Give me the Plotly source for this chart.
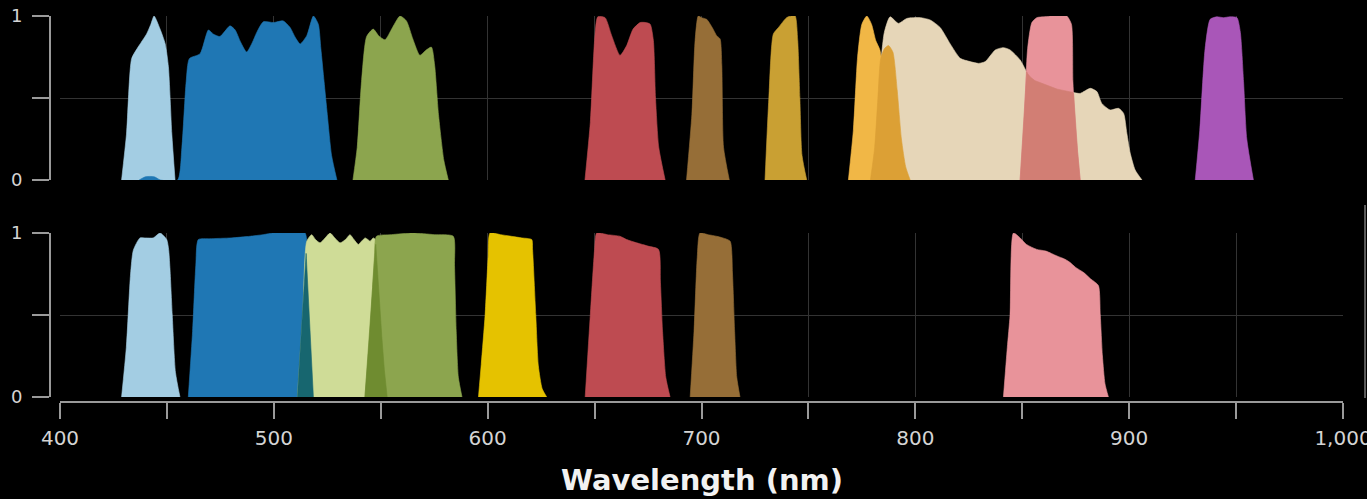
import numpy as np
import plotly.graph_objects as go

W, H = 1367, 499

# ---------------- data: top panel (wavelength nm, transmission) ----------------
T_LIGHTBLUE_NM = [428.8, 431.1, 433.5, 436.0, 438.0, 440.5, 442.5, 444.0, 446.8, 449.2, 450.7, 452.3, 453.8]
T_LIGHTBLUE_T = [0.0, 0.28, 0.74, 0.80, 0.84, 0.89, 0.95, 1.0, 0.92, 0.83, 0.69, 0.28, 0.0]

T_DARKBLUE_NM = [437.0, 440.0, 444.0, 447.0, 455.0, 457.0, 459.0, 460.5, 465.5, 469.4, 471.7, 474.8, 479.5,
                 481.9, 484.5, 487.3, 490.0, 492.0, 495.1, 499.8, 504.4, 507.6, 510.0, 512.3, 515.4, 518.5,
                 520.8, 522.0, 523.5, 525.0, 527.0, 529.5]
T_DARKBLUE_T = [0.0, 0.02, 0.02, 0.0, 0.0, 0.2, 0.6, 0.74, 0.77, 0.915, 0.89, 0.875, 0.94,
                0.915, 0.84, 0.78, 0.84, 0.90, 0.965, 0.96, 0.97, 0.93, 0.87, 0.83, 0.88, 1.0,
                0.95, 0.80, 0.60, 0.40, 0.15, 0.0]

T_OLIVE_NM = [537.0, 539.0, 541.0, 543.4, 546.5, 549.0, 552.0, 555.5, 559.0, 562.0, 565.0, 568.3, 571.0,
              573.7, 575.2, 577.0, 579.5, 581.6]
T_OLIVE_T = [0.0, 0.2, 0.6, 0.875, 0.92, 0.88, 0.855, 0.93, 1.0, 0.97, 0.86, 0.76, 0.79,
             0.81, 0.70, 0.40, 0.12, 0.0]

T_RED_NM = [645.5, 648.0, 650.0, 651.5, 654.9, 658.0, 661.9, 665.0, 668.0, 671.3, 674.0, 676.0, 677.5,
            678.5, 680.0, 683.0]
T_RED_T = [0.0, 0.35, 0.85, 0.995, 0.99, 0.88, 0.76, 0.82, 0.92, 0.96, 0.96, 0.95, 0.85,
           0.50, 0.20, 0.0]

T_BROWN_NM = [693.0, 695.5, 697.0, 698.5, 700.0, 702.4, 705.0, 707.1, 708.7, 709.5, 710.3, 713.0]
T_BROWN_T = [0.0, 0.4, 0.85, 1.0, 0.99, 0.98, 0.93, 0.88, 0.86, 0.70, 0.20, 0.0]

T_MUSTARD_NM = [729.7, 731.5, 733.6, 736.0, 739.8, 742.0, 743.8, 745.0, 746.0, 747.0, 749.2]
T_MUSTARD_T = [0.0, 0.5, 0.89, 0.93, 0.99, 1.0, 1.0, 0.85, 0.5, 0.15, 0.0]

T_BEIGE_NM = [772.0, 779.0, 783.0, 785.5, 788.2, 792.1, 796.0, 802.2, 806.9, 811.6, 816.3, 821.0, 825.6,
              829.6, 832.7, 837.4, 841.2, 844.3, 849.0, 852.9, 855.2, 864.6, 874.0, 877.1, 881.8, 884.9,
              887.2, 891.1, 895.0, 897.4, 898.9, 900.5, 902.8, 906.0]
T_BEIGE_T = [0.0, 0.2, 0.6, 0.9, 0.995, 0.955, 0.985, 0.99, 0.976, 0.93, 0.83, 0.742, 0.722,
             0.711, 0.722, 0.793, 0.807, 0.793, 0.732, 0.64, 0.61, 0.559, 0.533, 0.528, 0.559, 0.539,
             0.467, 0.427, 0.437, 0.406, 0.285, 0.163, 0.061, 0.0]

T_ORANGE_NM = [768.7, 771.0, 773.0, 775.0, 777.3, 779.5, 781.5, 783.5, 786.0, 789.0, 792.0]
T_ORANGE_T = [0.0, 0.3, 0.75, 0.95, 1.0, 0.95, 0.85, 0.79, 0.5, 0.15, 0.0]

T_DKORANGE_NM = [779.0, 781.0, 782.5, 783.8, 785.5, 787.4, 789.5, 791.5, 793.5, 795.5, 797.6]
T_DKORANGE_T = [0.0, 0.2, 0.5, 0.74, 0.80, 0.82, 0.78, 0.55, 0.25, 0.08, 0.0]

T_PINK_NM = [849.0, 851.0, 852.5, 854.5, 856.8, 860.0, 863.0, 867.0, 870.8, 873.0, 873.7, 875.0, 877.1]
T_PINK_T = [0.0, 0.4, 0.8, 0.96, 0.99, 0.995, 1.0, 1.0, 1.0, 0.95, 0.6, 0.3, 0.0]

T_PURPLE_NM = [930.9, 933.0, 935.5, 937.9, 941.0, 944.1, 947.0, 950.4, 952.0, 953.5, 955.0, 958.1]
T_PURPLE_T = [0.0, 0.3, 0.8, 0.98, 0.995, 0.99, 0.995, 0.99, 0.9, 0.6, 0.25, 0.0]

# ---------------- data: bottom panel ----------------
B_LIGHTBLUE_NM = [428.8, 431.0, 433.0, 434.3, 437.4, 440.0, 443.6, 446.8, 449.9, 450.8, 451.4, 452.5, 454.0, 456.1]
B_LIGHTBLUE_T = [0.0, 0.3, 0.75, 0.895, 0.97, 0.97, 0.97, 1.0, 0.96, 0.90, 0.79, 0.5, 0.15, 0.0]

B_DARKBLUE_NM = [460.0, 462.0, 463.5, 464.7, 470.0, 480.0, 488.9, 495.0, 499.8, 505.0, 510.0, 514.6, 515.8, 517.0, 518.5]
B_DARKBLUE_T = [0.0, 0.4, 0.8, 0.96, 0.965, 0.97, 0.98, 0.99, 1.0, 1.0, 1.0, 1.0, 0.7, 0.3, 0.0]

B_LIGHTGREEN_NM = [511.0, 513.5, 515.4, 517.7, 519.5, 521.6, 524.0, 526.3, 528.5, 531.0, 533.5, 535.6, 537.5,
                   539.5, 541.0, 542.7, 544.0, 545.0, 546.5, 547.5, 549.0, 551.0, 553.0]
B_LIGHTGREEN_T = [0.0, 0.5, 0.95, 0.99, 0.96, 0.94, 0.97, 1.0, 0.97, 0.94, 0.96, 0.99, 0.96,
                  0.93, 0.95, 0.97, 0.96, 0.95, 0.97, 0.96, 0.7, 0.25, 0.0]

B_OLIVE_NM = [542.6, 545.0, 547.0, 548.0, 555.0, 565.0, 575.0, 583.9, 584.5, 585.3, 586.3, 588.0]
B_OLIVE_T = [0.0, 0.4, 0.85, 0.98, 0.99, 1.0, 0.99, 0.98, 0.8, 0.4, 0.12, 0.0]

B_YELLOW_NM = [595.7, 597.0, 598.8, 600.2, 601.1, 606.0, 611.0, 616.0, 620.6, 621.0, 622.5, 623.7, 625.5, 627.6]
B_YELLOW_T = [0.0, 0.2, 0.5, 0.85, 1.0, 0.99, 0.98, 0.97, 0.96, 0.9, 0.5, 0.19, 0.05, 0.0]

B_RED_NM = [645.6, 648.0, 650.0, 651.0, 656.0, 661.9, 665.0, 669.7, 675.0, 679.9, 680.8, 681.8, 683.3, 685.3]
B_RED_T = [0.0, 0.5, 0.9, 1.0, 0.99, 0.98, 0.96, 0.94, 0.92, 0.90, 0.7, 0.4, 0.12, 0.0]

B_BROWN_NM = [694.7, 696.5, 698.0, 699.3, 703.0, 707.1, 710.0, 713.4, 714.5, 715.5, 716.5, 718.0]
B_BROWN_T = [0.0, 0.4, 0.85, 1.0, 0.99, 0.98, 0.97, 0.95, 0.75, 0.4, 0.12, 0.0]

B_PINK_NM = [841.2, 843.0, 844.3, 845.9, 849.0, 852.0, 856.8, 861.0, 866.2, 870.0, 872.4, 875.0, 878.6,
             882.0, 885.6, 886.5, 887.5, 888.7, 890.3]
B_PINK_T = [0.0, 0.3, 0.5, 1.0, 0.97, 0.93, 0.90, 0.89, 0.86, 0.84, 0.82, 0.79, 0.76,
            0.72, 0.68, 0.5, 0.25, 0.08, 0.0]

# ---------------- axes ----------------
TICK_NM = [400, 450, 500, 550, 600, 650, 700, 750, 800, 850, 900, 950, 1000]
TICK_TEXT = ["400", "", "500", "", "600", "", "700", "", "800", "", "900", "", "1,000"]
Y_TICKS = [0, 0.5, 1]
Y_TEXT = ["0", "", "1"]

C = dict(lightblue="#a3cde3", darkblue="#1f77b4", olive="#8ca54e", red="#be4b51", brown="#966e37",
         mustard="#c9a033", beige="#e6d6b8", orange="#f1b746", dkorange="#dca035", pink="#e8939a",
         purple="#a956b8", salmon="#d27e74", lightgreen="#cfdc97", yellow="#e5c200",
         teal="#17666f", dkgreen="#6f8c30")

fig = go.Figure()


def band(nm, t, color, xa, ya, shape="spline"):
    fig.add_trace(go.Scatter(
        x=nm, y=t, mode="lines", fill="tozeroy", fillcolor=color,
        line=dict(color=color, width=0.6, shape=shape, smoothing=0.6),
        xaxis=xa, yaxis=ya, hoverinfo="skip", showlegend=False))


def overlap(nm1, t1, nm2, t2, color, xa, ya):
    lo, hi = max(nm1[0], nm2[0]), min(nm1[-1], nm2[-1])
    grid = np.linspace(lo, hi, 120)
    y = np.minimum(np.interp(grid, nm1, t1), np.interp(grid, nm2, t2))
    band(grid, y, color, xa, ya, shape="linear")


# top panel (x2 / y)
band(T_LIGHTBLUE_NM, T_LIGHTBLUE_T, C["lightblue"], "x2", "y")
band(T_DARKBLUE_NM, T_DARKBLUE_T, C["darkblue"], "x2", "y")
band(T_OLIVE_NM, T_OLIVE_T, C["olive"], "x2", "y")
band(T_RED_NM, T_RED_T, C["red"], "x2", "y")
band(T_BROWN_NM, T_BROWN_T, C["brown"], "x2", "y")
band(T_MUSTARD_NM, T_MUSTARD_T, C["mustard"], "x2", "y")
band(T_BEIGE_NM, T_BEIGE_T, C["beige"], "x2", "y")
band(T_ORANGE_NM, T_ORANGE_T, C["orange"], "x2", "y")
band(T_DKORANGE_NM, T_DKORANGE_T, C["dkorange"], "x2", "y")
band(T_PINK_NM, T_PINK_T, C["pink"], "x2", "y")
overlap(T_BEIGE_NM, T_BEIGE_T, T_PINK_NM, T_PINK_T, C["salmon"], "x2", "y")
band(T_PURPLE_NM, T_PURPLE_T, C["purple"], "x2", "y")

# bottom panel (x / y2)
band(B_LIGHTBLUE_NM, B_LIGHTBLUE_T, C["lightblue"], "x", "y2")
band(B_DARKBLUE_NM, B_DARKBLUE_T, C["darkblue"], "x", "y2")
band(B_LIGHTGREEN_NM, B_LIGHTGREEN_T, C["lightgreen"], "x", "y2")
band(B_OLIVE_NM, B_OLIVE_T, C["olive"], "x", "y2")
overlap(B_DARKBLUE_NM, B_DARKBLUE_T, B_LIGHTGREEN_NM, B_LIGHTGREEN_T, C["teal"], "x", "y2")
overlap(B_LIGHTGREEN_NM, B_LIGHTGREEN_T, B_OLIVE_NM, B_OLIVE_T, C["dkgreen"], "x", "y2")
band(B_YELLOW_NM, B_YELLOW_T, C["yellow"], "x", "y2")
band(B_RED_NM, B_RED_T, C["red"], "x", "y2")
band(B_BROWN_NM, B_BROWN_T, C["brown"], "x", "y2")
band(B_PINK_NM, B_PINK_T, C["pink"], "x", "y2")

GRID = "#333333"
AXC = "#9a9a9a"
XDOM = [60 / W, 1343 / W]

yax = dict(range=[0, 1], tickvals=Y_TICKS, ticktext=Y_TEXT, anchor="free", position=50 / W,
           showline=True, linecolor=AXC, linewidth=2, ticks="outside", ticklen=17, tickwidth=2,
           tickcolor=AXC, showgrid=True, gridcolor=GRID, gridwidth=1, zeroline=False,
           tickfont=dict(family="DejaVu Sans", size=18, color="#d4d4d4"),
           ticklabelstandoff=6, automargin=False, fixedrange=True)

fig.update_layout(
    width=W, height=H, autosize=False, template="none",
    margin=dict(l=0, r=0, t=0, b=0),
    paper_bgcolor="black", plot_bgcolor="black",
    showlegend=False,
    xaxis=dict(range=[400, 1000], domain=XDOM, anchor="free", position=1 - 401.5 / H,
               tickvals=TICK_NM, ticktext=TICK_TEXT, showline=True, linecolor=AXC, linewidth=2,
               ticks="outside", ticklen=16, tickwidth=2, tickcolor=AXC,
               showgrid=True, gridcolor=GRID, gridwidth=1, zeroline=False,
               tickfont=dict(family="DejaVu Sans", size=20, color="#d4d4d4"),
               ticklabelstandoff=2, ticklabeloverflow="allow", automargin=False),
    xaxis2=dict(range=[400, 1000], domain=XDOM, anchor="y", matches="x",
                tickvals=TICK_NM, showticklabels=False, ticks="", showline=False,
                showgrid=True, gridcolor=GRID, gridwidth=1, zeroline=False, automargin=False),
    yaxis=dict(domain=[1 - 180 / H, 1 - 16 / H], **yax),
    yaxis2=dict(domain=[1 - 397 / H, 1 - 233 / H], **yax),
    annotations=[dict(text="<b>Wavelength (nm)</b>", xref="paper", yref="paper",
                      x=701.5 / W, y=1 - 480 / H, xanchor="center", yanchor="middle",
                      showarrow=False, font=dict(family="DejaVu Sans", size=29, color="#f2f2f2"))],
    shapes=[dict(type="line", xref="paper", yref="paper", x0=1365 / W, x1=1365 / W,
                 y0=1 - 205 / H, y1=1 - 398 / H, line=dict(color="#5a5a5a", width=2))],
)

fig.write_html("out.html", config={"displayModeBar": False},
               post_script="document.body.style.margin='0';document.body.style.background='black';"
                           "document.body.style.overflow='hidden';")
